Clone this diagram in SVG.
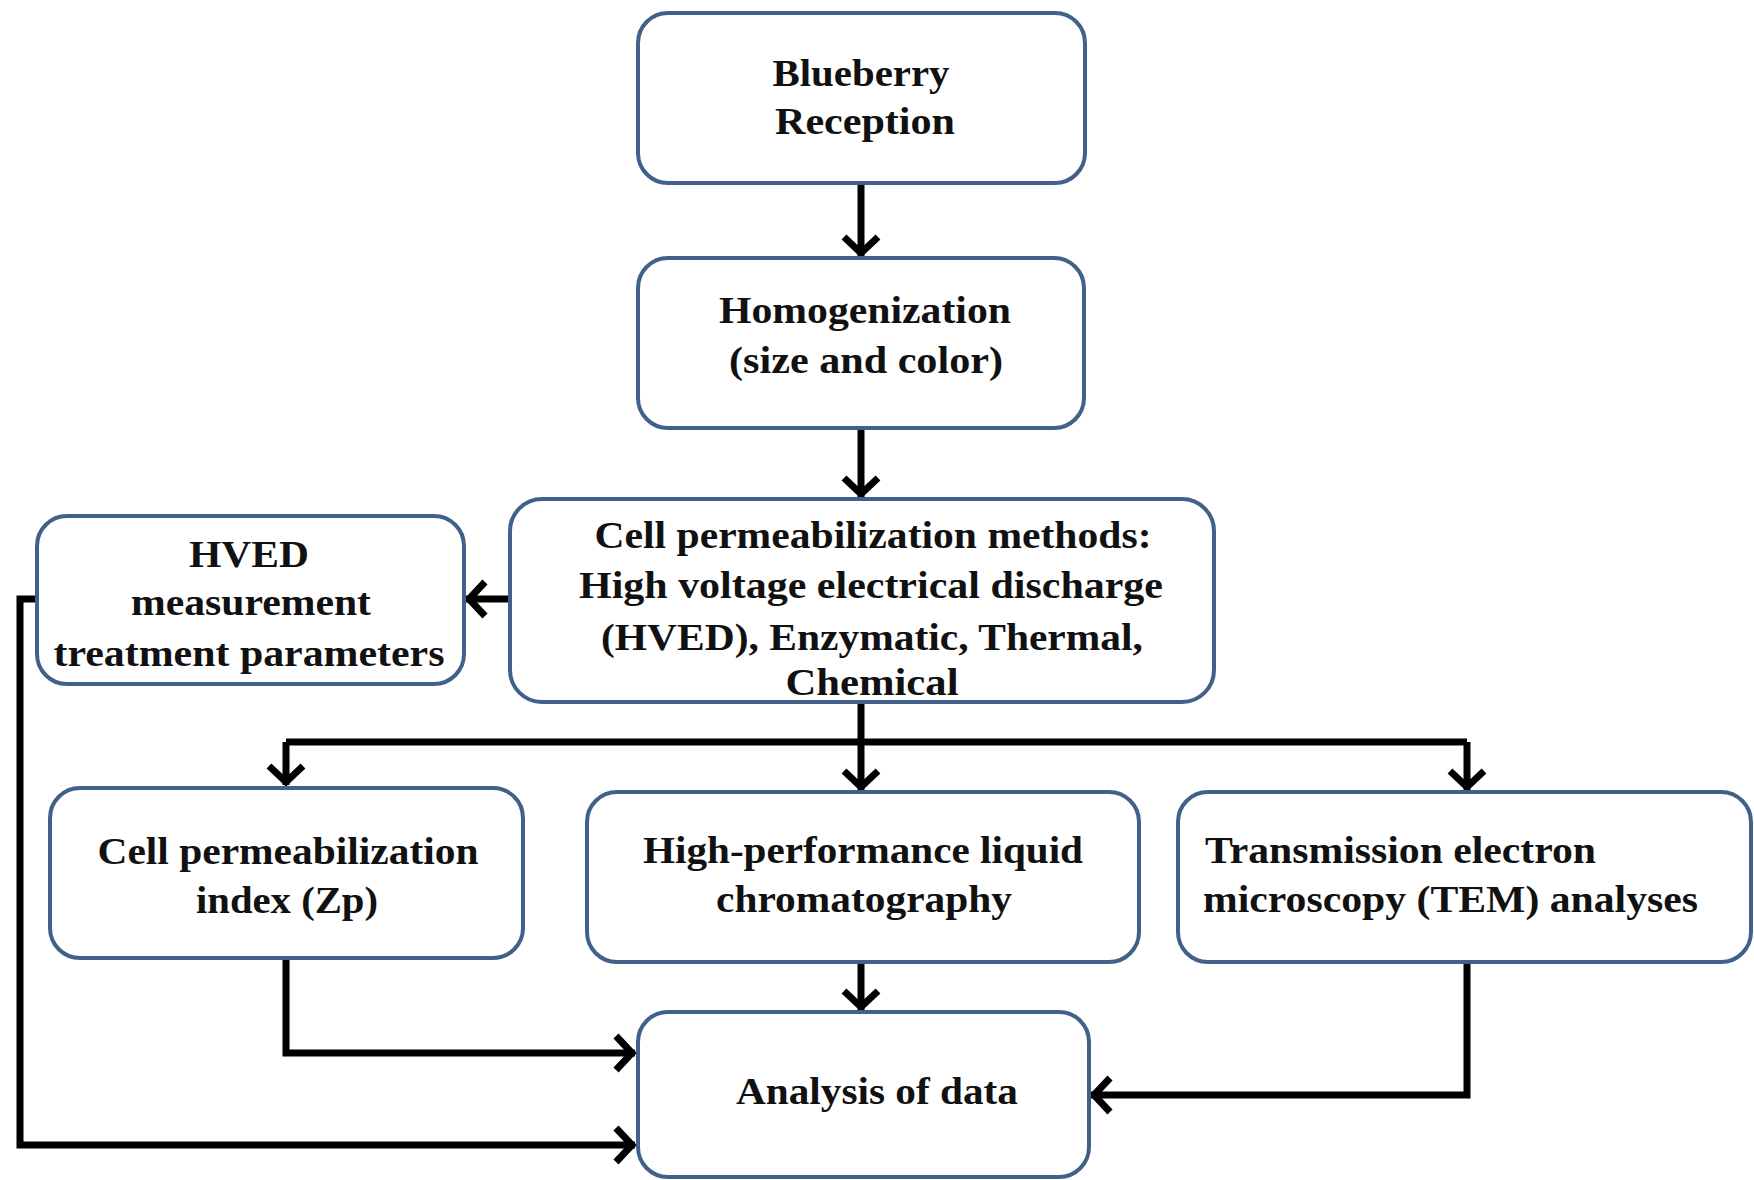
<svg xmlns="http://www.w3.org/2000/svg" width="1754" height="1180" viewBox="0 0 1754 1180">
<style>
.box{fill:#fff;stroke:#41618a;stroke-width:4}
.t{font-family:"Liberation Serif","Times New Roman",serif;font-weight:bold;font-size:37px;fill:#111;text-anchor:middle}
.tl{text-anchor:start}
.c{fill:none;stroke:#000;stroke-width:7;stroke-linejoin:miter}
</style>
<defs>
<marker id="ah" markerUnits="userSpaceOnUse" markerWidth="60" markerHeight="60" viewBox="-40 -30 60 60" refX="0" refY="0" orient="auto" overflow="visible">
<path d="M-19,-17 L-3,0 L-19,17" fill="none" stroke="#000" stroke-width="7"/>
</marker>
</defs>
<rect width="1754" height="1180" fill="#fff"/>
<g id="connectors">
<path class="c" d="M861,183 V256" marker-end="url(#ah)"/>
<path class="c" d="M861,428 V497" marker-end="url(#ah)"/>
<path class="c" d="M510,599 H466" marker-end="url(#ah)"/>
<path class="c" d="M861,702 V742"/>
<path class="c" d="M286,742 H1467"/>
<path class="c" d="M286,742 V785" marker-end="url(#ah)"/>
<path class="c" d="M861,742 V790" marker-end="url(#ah)"/>
<path class="c" d="M1467,742 V790" marker-end="url(#ah)"/>
<path class="c" d="M46,599 H20 V1145 H635" marker-end="url(#ah)"/>
<path class="c" d="M286,958 V1053 H635" marker-end="url(#ah)"/>
<path class="c" d="M861,962 V1010" marker-end="url(#ah)"/>
<path class="c" d="M1467,962 V1095 H1091" marker-end="url(#ah)"/>
</g>
<g id="n1">
<rect class="box" x="638" y="13" width="447" height="170" rx="30"/>
<text class="t" x="861" y="86" textLength="177" lengthAdjust="spacingAndGlyphs">Blueberry</text>
<text class="t" x="865" y="134" textLength="180" lengthAdjust="spacingAndGlyphs">Reception</text>
</g>
<g id="n2">
<rect class="box" x="638" y="258" width="446" height="170" rx="30"/>
<text class="t" x="865" y="323" textLength="292" lengthAdjust="spacingAndGlyphs">Homogenization</text>
<text class="t" x="866" y="373" textLength="274" lengthAdjust="spacingAndGlyphs">(size and color)</text>
</g>
<g id="n3">
<rect class="box" x="510" y="499" width="704" height="203" rx="32"/>
<text class="t" x="873" y="548" textLength="557" lengthAdjust="spacingAndGlyphs">Cell permeabilization methods:</text>
<text class="t" x="871" y="598" textLength="584" lengthAdjust="spacingAndGlyphs">High voltage electrical discharge</text>
<text class="t" x="872" y="650" textLength="542" lengthAdjust="spacingAndGlyphs">(HVED), Enzymatic, Thermal,</text>
<text class="t" x="872" y="695" textLength="173" lengthAdjust="spacingAndGlyphs">Chemical</text>
</g>
<g id="n4">
<rect class="box" x="37" y="516" width="427" height="168" rx="30"/>
<text class="t" x="249" y="567" textLength="120" lengthAdjust="spacingAndGlyphs">HVED</text>
<text class="t" x="251" y="615" textLength="240" lengthAdjust="spacingAndGlyphs">measurement</text>
<text class="t" x="249" y="666" textLength="391" lengthAdjust="spacingAndGlyphs">treatment parameters</text>
</g>
<g id="n5">
<rect class="box" x="50" y="788" width="473" height="170" rx="30"/>
<text class="t" x="288" y="864" textLength="381" lengthAdjust="spacingAndGlyphs">Cell permeabilization</text>
<text class="t" x="287" y="913" textLength="182" lengthAdjust="spacingAndGlyphs">index (Zp)</text>
</g>
<g id="n6">
<rect class="box" x="587" y="792" width="552" height="170" rx="30"/>
<text class="t" x="863" y="863" textLength="440" lengthAdjust="spacingAndGlyphs">High-performance liquid</text>
<text class="t" x="864" y="912" textLength="296" lengthAdjust="spacingAndGlyphs">chromatography</text>
</g>
<g id="n7">
<rect class="box" x="1178" y="792" width="573" height="170" rx="30"/>
<text class="t tl" x="1205" y="863" textLength="391" lengthAdjust="spacingAndGlyphs">Transmission electron</text>
<text class="t tl" x="1203" y="912" textLength="495" lengthAdjust="spacingAndGlyphs">microscopy (TEM) analyses</text>
</g>
<g id="n8">
<rect class="box" x="638" y="1012" width="451" height="165" rx="30"/>
<text class="t" x="877" y="1104" textLength="282" lengthAdjust="spacingAndGlyphs">Analysis of data</text>
</g>
</svg>
